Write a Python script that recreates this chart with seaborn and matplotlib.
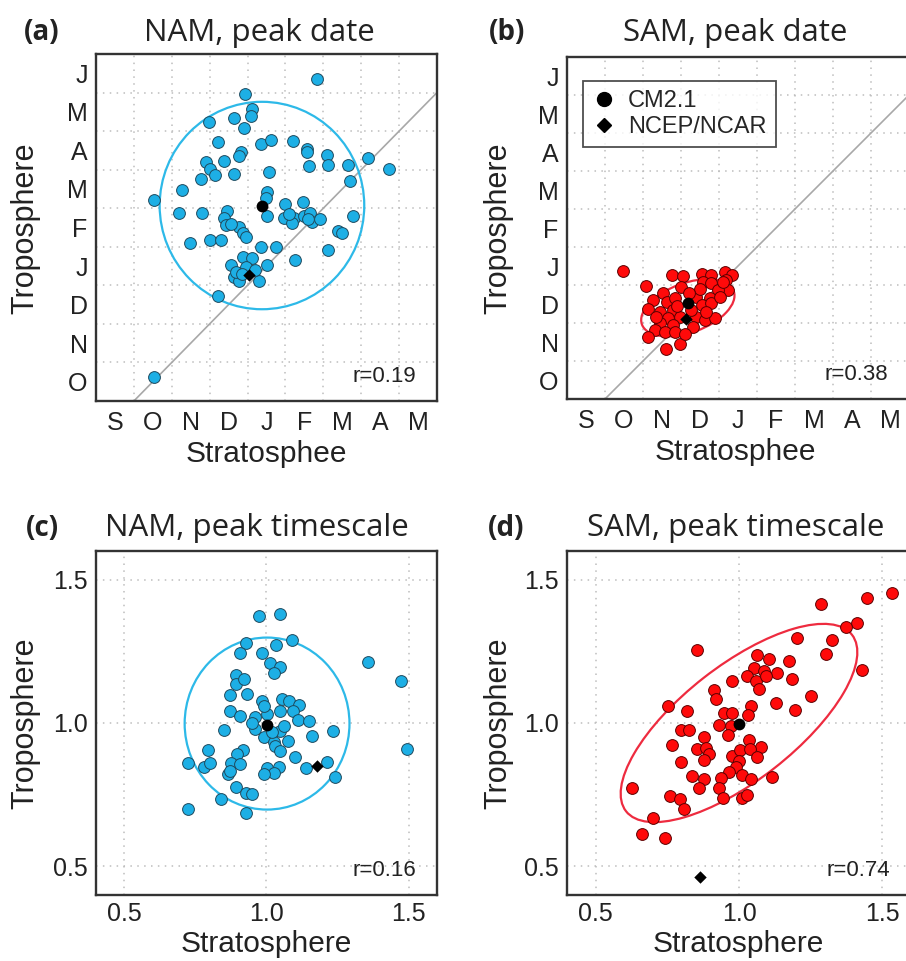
import numpy as np
import pandas as pd
import matplotlib
matplotlib.use("Agg")
import matplotlib.pyplot as plt
import seaborn as sns
from matplotlib.patches import Ellipse
from matplotlib.lines import Line2D

# ---------------- data ----------------
# month axes: values are months since 1 September (Sep=0, Oct=1, ...)
x_month_labels = ["S", "O", "N", "D", "J", "F", "M", "A", "M"]
y_month_labels = ["O", "N", "D", "J", "F", "M", "A", "M", "J"]

a_strat = [5.83, 3.93, 4.13, 4.10, 3.65, 2.97, 3.90, 3.22, 4.35, 4.61, 5.19, 5.57, 5.57, 3.83, 3.78,
           3.37, 2.91, 3.00, 3.13, 2.77, 3.65, 4.57, 5.61, 6.09, 6.13, 6.65, 7.17, 7.74, 6.71, 2.26,
           1.52, 4.52, 4.48, 4.98, 5.46, 2.20, 2.80, 3.46, 3.39, 4.52, 4.96, 5.22, 5.17, 5.48, 5.65,
           5.70, 5.91, 6.78, 3.43, 3.77, 3.87, 3.96, 6.39, 6.48, 2.48, 3.02, 3.30, 4.35, 4.74, 6.13,
           5.26, 3.57, 3.87, 4.13, 4.52, 3.65, 3.78, 4.30, 3.96, 3.22, 1.52, 3.70, 3.85, 4.20, 3.55,
           5.10, 5.60]
a_trop = [9.35, 8.97, 8.58, 8.40, 8.34, 8.23, 8.08, 7.71, 7.66, 7.77, 7.75, 7.53, 7.45, 7.45, 7.36,
          7.23, 7.21, 7.01, 6.86, 6.77, 6.90, 6.95, 7.10, 7.38, 7.12, 7.12, 7.31, 7.01, 6.70, 6.48,
          6.22, 6.41, 6.27, 6.12, 6.15, 5.87, 5.87, 5.94, 5.74, 5.80, 5.74, 5.74, 5.61, 5.79, 5.87,
          5.63, 5.72, 5.80, 5.57, 5.52, 5.35, 5.26, 5.41, 5.35, 5.10, 5.17, 5.17, 5.00, 5.00, 4.91,
          4.65, 4.54, 4.74, 4.71, 4.54, 4.21, 4.12, 4.12, 4.47, 3.73, 1.61, 4.35, 4.30, 4.40, 5.60,
          5.85, 5.72]

b_strat = [1.47, 2.09, 2.75, 3.05, 3.01, 3.54, 3.80, 4.15, 4.35, 3.58, 3.80, 4.19, 4.24, 3.97, 2.53,
           2.26, 2.62, 2.83, 3.40, 3.76, 3.54, 3.80, 2.13, 2.44, 2.79, 2.97, 2.66, 3.40, 3.62, 3.89,
           2.44, 2.79, 3.32, 2.31, 2.57, 2.83, 2.13, 2.97, 2.60, 4.10, 3.49, 3.67, 3.27, 4.02, 2.90,
           3.20, 2.35, 3.10]
b_trop = [4.38, 3.97, 4.26, 4.24, 3.96, 4.29, 4.26, 4.35, 4.26, 4.09, 4.04, 4.13, 3.87, 3.87, 3.78,
          3.61, 3.56, 3.65, 3.69, 3.65, 3.47, 3.52, 3.36, 3.30, 3.34, 3.17, 3.12, 3.17, 3.08, 3.12,
          2.99, 2.95, 2.90, 2.82, 2.77, 2.77, 2.64, 2.44, 2.32, 4.09, 3.89, 3.30, 3.34, 3.69, 3.45,
          3.80, 3.15, 2.70]

c_strat = [0.973, 1.046, 0.929, 0.908, 1.034, 1.089, 0.984, 1.011, 1.046, 1.025, 1.358, 1.472, 0.891,
           0.894, 0.920, 0.873, 0.931, 0.984, 1.054, 1.078, 1.116, 0.873, 0.908, 0.960, 1.001, 1.046,
           1.092, 1.110, 1.148, 0.850, 0.960, 1.233, 1.159, 0.990, 1.048, 1.074, 1.025, 1.031, 1.048,
           1.494, 0.795, 0.918, 0.897, 1.101, 0.722, 0.780, 0.801, 0.876, 0.908, 1.139, 1.214, 1.002,
           1.043, 1.025, 0.990, 0.865, 0.873, 1.241, 0.891, 0.929, 0.949, 0.841, 0.722, 0.929, 0.950,
           1.020, 1.060, 0.990]
c_trop = [1.372, 1.379, 1.280, 1.244, 1.273, 1.288, 1.244, 1.209, 1.195, 1.174, 1.212, 1.146, 1.169,
          1.137, 1.154, 1.096, 1.102, 1.076, 1.084, 1.076, 1.064, 1.043, 1.026, 1.020, 1.031, 1.043,
          1.043, 1.011, 1.008, 0.975, 0.979, 0.973, 0.956, 0.950, 0.973, 0.938, 0.932, 0.921, 0.903,
          0.911, 0.907, 0.905, 0.891, 0.882, 0.859, 0.845, 0.860, 0.859, 0.856, 0.842, 0.865, 0.842,
          0.847, 0.827, 0.821, 0.821, 0.833, 0.813, 0.777, 0.757, 0.751, 0.736, 0.701, 0.685, 1.000,
          0.970, 0.990, 1.060]

d_strat = [1.535, 1.445, 1.287, 1.413, 1.374, 1.203, 1.326, 1.302, 1.428, 0.852, 1.064, 1.105, 1.174,
           1.052, 1.087, 1.134, 1.029, 1.186, 0.977, 1.058, 1.093, 1.070, 0.913, 0.921, 1.250, 1.128,
           1.195, 0.753, 0.817, 1.041, 1.031, 0.948, 0.977, 0.930, 0.971, 0.797, 0.826, 0.962, 0.878,
           1.035, 0.765, 1.076, 0.855, 0.884, 0.895, 0.878, 0.977, 1.002, 1.037, 1.063, 0.797, 1.000,
           0.988, 0.965, 1.009, 0.837, 0.878, 0.936, 1.043, 1.114, 0.860, 0.930, 0.628, 0.944, 1.012,
           1.029, 0.758, 0.793, 0.808, 0.701, 0.663, 0.741]
d_trop = [1.452, 1.437, 1.416, 1.350, 1.336, 1.295, 1.291, 1.239, 1.186, 1.254, 1.237, 1.225, 1.216,
          1.192, 1.181, 1.175, 1.163, 1.155, 1.148, 1.148, 1.163, 1.117, 1.114, 1.082, 1.093, 1.070,
          1.044, 1.061, 1.043, 1.058, 1.029, 1.035, 1.035, 0.994, 0.988, 0.974, 0.974, 0.957, 0.950,
          0.942, 0.922, 0.918, 0.909, 0.913, 0.893, 0.872, 0.886, 0.907, 0.909, 0.881, 0.864, 0.866,
          0.848, 0.828, 0.817, 0.814, 0.805, 0.808, 0.805, 0.811, 0.773, 0.773, 0.775, 0.738, 0.738,
          0.749, 0.746, 0.735, 0.699, 0.670, 0.612, 0.598]

# CM2.1 ensemble mean and NCEP/NCAR reanalysis (strat, trop)
cm21 = {"a": (4.39, 6.05), "b": (3.18, 3.52), "c": (1.002, 0.993), "d": (1.000, 0.998)}
ncep = {"a": (4.03, 4.26), "b": (3.14, 3.11), "c": (1.177, 0.851), "d": (0.863, 0.464)}

# ellipses: (x centre, y centre, width, height, angle)
ellipses = {"a": (4.38, 6.07, 5.40, 5.38, 0.0), "b": (3.18, 3.40, 2.57, 1.30, 20.0),
            "c": (1.002, 0.998, 0.58, 0.60, 0.0), "d": (1.000, 1.000, 1.00, 0.40, 38.0)}

r_values = {"a": "r=0.19", "b": "r=0.38", "c": "r=0.16", "d": "r=0.74"}
titles = {"a": "NAM, peak date", "b": "SAM, peak date",
          "c": "NAM, peak timescale", "d": "SAM, peak timescale"}
xlabels = {"a": "Stratosphee", "b": "Stratosphee", "c": "Stratosphere", "d": "Stratosphere"}
ts_ticks = [0.5, 1.0, 1.5]
ts_ticklabels = ["0.5", "1.0", "1.5"]

# ---------------- style ----------------
sns.set_theme(style="white")
plt.rcParams["font.family"] = ["Liberation Sans", "DejaVu Sans"]

W, H = 906, 961
fig = plt.figure(figsize=(W / 100, H / 100), dpi=100)


def px_axes(l, t, r, b):
    return fig.add_axes([l / W, 1 - b / H, (r - l) / W, (b - t) / H])


axes = {
    "a": px_axes(96, 54, 437, 401),
    "b": px_axes(567, 57, 909, 399),
    "c": px_axes(96, 551, 437, 895),
    "d": px_axes(567, 551, 911, 895),
}

cyan = "#1DAFE5"
cyan_line = "#2DB9E8"
red = "#FF0A0A"
red_line = "#EE2B3F"
grid_kw = dict(color="#BDBDBD", linestyle=(0, (1, 3.5)), linewidth=1.1)

data = {"a": (a_strat, a_trop, cyan, cyan_line, "#1E4A5E"),
        "b": (b_strat, b_trop, red, red_line, "#5A0000"),
        "c": (c_strat, c_trop, cyan, cyan_line, "#1E4A5E"),
        "d": (d_strat, d_trop, red, red_line, "#5A0000")}

for key, ax in axes.items():
    xs, ys, fc, lc, ec = data[key]
    monthly = key in ("a", "b")
    if monthly:
        ax.set_xlim(0, 9)
        ax.set_ylim(1, 10)
        ax.set_xticks(np.arange(1, 9))
        ax.set_yticks(np.arange(2, 10))
        ax.set_xticks(np.arange(9) + 0.5, minor=True)
        ax.set_yticks(np.arange(9) + 1.5, minor=True)
        ax.set_xticklabels([])
        ax.set_yticklabels([])
        ax.set_xticklabels(x_month_labels, minor=True)
        ax.set_yticklabels(y_month_labels, minor=True)
        ax.axline((0, 0), slope=1, color="#A8A8A8", linewidth=1.2, zorder=1)
    else:
        ax.set_xlim(0.4, 1.6)
        ax.set_ylim(0.4, 1.6)
        ax.set_xticks(ts_ticks)
        ax.set_yticks(ts_ticks)
        ax.set_xticklabels(ts_ticklabels)
        ax.set_yticklabels(ts_ticklabels)
    ax.grid(True, which="major", **grid_kw)
    ax.set_axisbelow(True)
    ax.tick_params(which="both", length=0, labelsize=18, colors="#222222")
    ax.tick_params(axis="x", which="both", pad=7 if monthly else 5)
    ax.tick_params(axis="y", which="both", pad=6)
    for sp in ax.spines.values():
        sp.set_color("#333333")
        sp.set_linewidth(1.7)

    ex, ey, ew, eh, ea = ellipses[key]
    ax.add_patch(Ellipse((ex, ey), ew, eh, angle=ea, fill=False, edgecolor=lc,
                         linewidth=1.6, zorder=2))

    df = pd.DataFrame({"strat": xs, "trop": ys})
    sns.scatterplot(data=df, x="strat", y="trop", ax=ax, color=fc, edgecolor=ec,
                    linewidth=0.7, s=72, zorder=3, legend=False)
    dcm = pd.DataFrame({"strat": [cm21[key][0]], "trop": [cm21[key][1]]})
    dnc = pd.DataFrame({"strat": [ncep[key][0]], "trop": [ncep[key][1]]})
    sns.scatterplot(data=dcm, x="strat", y="trop", ax=ax, color="black", marker="o",
                    s=72, linewidth=0, zorder=4, legend=False)
    sns.scatterplot(data=dnc, x="strat", y="trop", ax=ax, color="black", marker="D",
                    s=40, linewidth=0, zorder=4, legend=False)
    ax.set_xlabel("")
    ax.set_ylabel("")
    ax.text(0.94, 0.055, r_values[key], transform=ax.transAxes, ha="right", va="baseline",
            fontsize=16, color="#222222")

# legend in panel (b)
handles = [Line2D([], [], marker="o", color="black", linestyle="none", markersize=10),
           Line2D([], [], marker="D", color="black", linestyle="none", markersize=7)]
leg = axes["b"].legend(handles, ["CM2.1", "NCEP/NCAR"], loc="upper left",
                       bbox_to_anchor=(0.047, 0.93), borderaxespad=0, frameon=True,
                       fancybox=False, fontsize=17, handlelength=1.0, handletextpad=0.5,
                       borderpad=0.4, labelspacing=0.15)
leg.get_frame().set_edgecolor("#222222")
leg.get_frame().set_linewidth(1.3)

# titles, panel letters and axis labels
title_font = ["Open Sans", "DejaVu Sans"]
panel_pos = {"a": (42, 259, 33), "b": (507, 735, 33), "c": (42, 257, 528), "d": (506, 736, 528)}
for key, (lx, tx, ty) in panel_pos.items():
    fig.text(lx / W, 1 - ty / H, f"({key})", ha="center", va="center", fontsize=20,
             fontweight="bold", family=title_font, color="#222222")
    fig.text(tx / W, 1 - ty / H, titles[key], ha="center", va="center", fontsize=22.5,
             family=title_font, color="#222222")

ylab_pos = {"a": (25, 228), "b": (498, 228), "c": (25, 723), "d": (498, 723)}
xlab_pos = {"a": (266, 462), "b": (735, 460), "c": (266, 952), "d": (738, 952)}
for key in axes:
    yx, yy = ylab_pos[key]
    fig.text(yx / W, 1 - yy / H, "Troposphere", rotation=90, ha="center", va="center",
             fontsize=22, color="#222222")
    xx, xy = xlab_pos[key]
    fig.text(xx / W, 1 - xy / H, xlabels[key], ha="center", va="baseline",
             fontsize=21.5, color="#222222")

fig.savefig("out.png", dpi=100)
